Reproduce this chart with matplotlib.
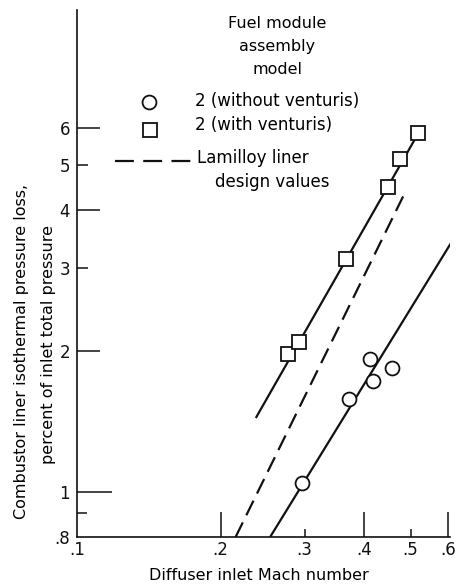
import matplotlib
matplotlib.use("Agg")
import matplotlib.pyplot as plt
from matplotlib.lines import Line2D

# ---- data ----
mach_without = [0.296, 0.371, 0.4105, 0.417, 0.4575]
loss_without = [1.045, 1.578, 1.918, 1.723, 1.84]

mach_with = [0.277, 0.292, 0.366, 0.449, 0.476, 0.519]
loss_with = [1.97, 2.09, 3.14, 4.48, 5.13, 5.83]

fit_with_mach = [0.237, 0.519]
fit_with_loss = [1.437, 5.83]

fit_without_mach = [0.254, 0.608]
fit_without_loss = [0.80, 3.40]

design_mach = [0.215, 0.486]
design_loss = [0.80, 4.34]

xticks = [0.1, 0.2, 0.3, 0.4, 0.5, 0.6]
xticklabels = [".1", ".2", ".3", ".4", ".5", ".6"]
yticks = [0.8, 0.9, 1, 2, 3, 4, 5, 6]
yticklabels = [".8", "", "1", "2", "3", "4", "5", "6"]

plt.rcParams['font.family'] = ['DejaVu Sans']
W, H = 465, 586
fig = plt.figure(figsize=(W / 100, H / 100), dpi=100)
ax = fig.add_axes([77 / W, 49 / H, (450 - 77) / W, (537 - 10) / H])
ax.set_xscale('log')
ax.set_yscale('log')
ax.set_xlim(0.1, 0.605)
ax.set_ylim(0.8, 10.7)

lc = '#111111'
lw = 1.6
ax.plot(fit_with_mach, fit_with_loss, color=lc, lw=lw, solid_capstyle='butt')
ax.plot(fit_without_mach, fit_without_loss, color=lc, lw=lw, solid_capstyle='butt')
ax.plot(design_mach, design_loss, color=lc, lw=lw, dashes=(7.3, 3.6), dash_capstyle='butt')

ax.plot(mach_without, loss_without, linestyle='none', marker='o', ms=10,
        mfc='white', mec=lc, mew=1.3, zorder=5)
ax.plot(mach_with, loss_with, linestyle='none', marker='s', ms=9.5,
        mfc='white', mec=lc, mew=1.3, zorder=5)

for s in ['top', 'right']:
    ax.spines[s].set_visible(False)
for s in ['left', 'bottom']:
    ax.spines[s].set_linewidth(1.2)
    ax.spines[s].set_color(lc)

ax.minorticks_off()
ax.set_xticks(xticks)
ax.set_xticklabels(xticklabels)
ax.set_yticks(yticks)
ax.set_yticklabels(yticklabels)
ax.minorticks_off()
ax.tick_params(axis='both', direction='in', width=1.1, colors=lc, labelsize=12)
ax.tick_params(axis='x', pad=3)
ax.tick_params(axis='y', pad=5)

ylen = {0.8: 0, 0.9: 7, 1: 25, 2: 16.5, 3: 8, 4: 16.5, 5: 8, 6: 16.5}
for t, v in zip(ax.yaxis.get_major_ticks(), yticks):
    t.tick1line.set_markersize(ylen[v])
xlen = {0.1: 0, 0.2: 18, 0.3: 6, 0.4: 18, 0.5: 6, 0.6: 18}
for t, v in zip(ax.xaxis.get_major_ticks(), xticks):
    t.tick1line.set_markersize(xlen[v])

fs = 11.5
def px(x, y):
    return x / W, 1 - y / H

fig.text(*px(277, 24), "Fuel module", ha='center', va='center', fontsize=fs)
fig.text(*px(277, 47), "assembly", ha='center', va='center', fontsize=fs)
fig.text(*px(277, 70), "model", ha='center', va='center', fontsize=fs)

fig.add_artist(Line2D([149 / W], [1 - 102 / H], marker='o', ms=10, mfc='white',
                      mec=lc, mew=1.3, transform=fig.transFigure))
fig.text(*px(195, 101), "2 (without venturis)", ha='left', va='center', fontsize=12)
fig.add_artist(Line2D([150 / W], [1 - 130 / H], marker='s', ms=9.5, mfc='white',
                      mec=lc, mew=1.3, transform=fig.transFigure))
fig.text(*px(195, 125), "2 (with venturis)", ha='left', va='center', fontsize=12)
fig.add_artist(Line2D([115 / W, 192 / W], [1 - 161 / H, 1 - 161 / H], color=lc, lw=lw,
                      dashes=(8.5, 4.2), transform=fig.transFigure))
fig.text(*px(197, 158), "Lamilloy liner", ha='left', va='center', fontsize=12)
fig.text(*px(215, 182), "design values", ha='left', va='center', fontsize=12)

fig.text(*px(259, 575), "Diffuser inlet Mach number", ha='center', va='center', fontsize=fs)
fig.text(*px(22, 351), "Combustor liner isothermal pressure loss,",
         ha='center', va='center', rotation=90, fontsize=fs)
fig.text(*px(48, 345), "percent of inlet total pressure",
         ha='center', va='center', rotation=90, fontsize=fs)

fig.savefig("out.png", dpi=100, facecolor='white')
